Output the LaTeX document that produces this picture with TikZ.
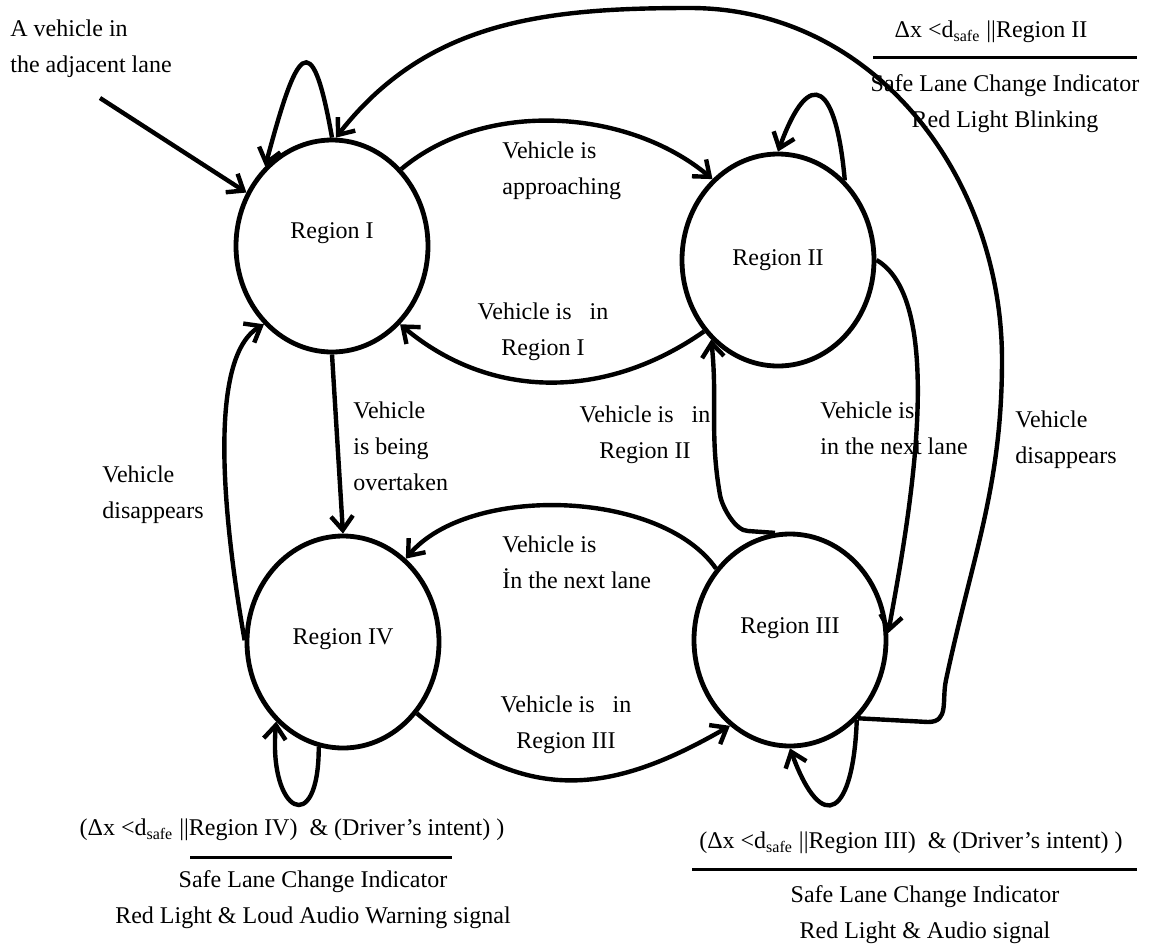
\documentclass[tikz,border=0pt]{standalone}
\usepackage{fontspec}
\setmainfont{Liberation Serif}
\usetikzlibrary{automata, positioning, arrows.meta, shapes.geometric}

\begin{document}
\begin{tikzpicture}[x=0.5pt, y=0.5pt,
    font=\fontsize{12pt}{18pt}\selectfont,
    region/.style={state, ellipse, line width=2.4pt,
        minimum width=96pt, minimum height=106pt, inner sep=0pt},
    raised/.style={text height=8pt, text depth=#1},
    txt/.style={inner sep=0pt, align=left},
    ctxt/.style={inner sep=0pt, align=center},
    rule/.style={line width=1.5pt}]
    \useasboundingbox (0,0) rectangle (1153,-949);

    \node (r1) [region, raised=16pt] at (332,-246) {Region I};
    \node (r2) [region] at (778,-260) {Region II};
    \node (r3) [region, raised=15pt] at (790,-640) {Region III};
    \node (r4) [region, raised=6pt] at (343,-642) {Region IV};
    \coordinate (entry) at (100,-98);

    % transitions between the regions
    \path [-{Straight Barb[length=7pt,width=11pt]}, line width=2.2pt]
    (entry) edge (r1.148)
    (r1.90) edge[out=100, in=75, distance=60pt] (r1.130)
    (r1.48) edge[out=40, in=140, looseness=.9] (r2.129)
    (r2.224) edge[out=215, in=320] (r1.311)
    (r1.south) edge (r4.north)
    (r4.179) edge[out=100, in=210, looseness=.6] (r1.229)
    (r4.316) edge[out=-40, in=210, looseness=1.15] (r3.235)
    (r3.136) edge[out=125, in=50, looseness=.8] (r4.53)
    (r2.0) edge[out=-30, in=80, looseness=.6] (r3.4)
    (r2.50) edge[out=95, in=70, distance=47.5pt] (r2.90)
    (r3.310) edge[out=268, in=290, distance=47.5pt] (r3.270)
    (r4.257) edge[out=270, in=265, distance=46pt] (r4.230);
    \draw [-{Straight Barb[length=7pt,width=11pt]}, line width=2.2pt]
    (r3.98) -- (748,-531) to[out=180, in=-80, looseness=.7] (720,-495)
        to[out=100, in=-84] (r2.230);
    \draw [-{Straight Barb[length=7pt,width=11pt]}, line width=2.2pt]
    (r3.311) -- (928,-722) to[out=0, in=258, looseness=1.2] (946,-680)
        to[out=78, in=-90] (1002,-360) to[out=90, in=0] (690,-8)
        to[out=180, in=52] (r1.88);

    % edge labels
    \node (lblentry) [txt, anchor=west] at (10,-48.5) {A vehicle in\\the adjacent lane};
    \node (lblappr) [txt, anchor=west] at (502,-170.5) {Vehicle is\\approaching};
    \node (lblin1) [ctxt] at (543,-332) {Vehicle is~~~in\\Region I};
    \node (lblovert) [txt, anchor=west] at (353,-446) {Vehicle\\is being\\overtaken};
    \node (lblin2) [ctxt] at (645,-435) {Vehicle is~~~in\\Region II};
    \node (lblnext4) [txt, anchor=west] at (502,-562.5) {Vehicle is\\İn the next lane};
    \node (lblin3) [ctxt] at (566,-725) {Vehicle is~~~in\\Region III};
    \node (lblgone4) [txt, anchor=west] at (102,-495) {Vehicle\\disappears};
    \node (lblnext3) [txt, anchor=west] at (820,-428.5) {Vehicle is\\in the next lane};
    \node (lblgone3) [txt, anchor=west] at (1015,-440) {Vehicle\\disappears};

    % conditions and actions of the self loops
    \node (cond2) [ctxt] at (991,-32) {Δx <d\textsubscript{safe} ||Region II};
    \draw [rule] (873,-57) -- (1137,-57);
    \node (act2) [ctxt] at (1005,-103.5) {Safe Lane Change Indicator\\Red Light Blinking};
    \node (cond4) [ctxt] at (292,-830) {(Δx <d\textsubscript{safe} ||Region IV)~ \& (Driver’s intent) )};
    \draw [rule] (190,-857) -- (452,-857);
    \node (act4) [ctxt] at (313,-900) {Safe Lane Change Indicator\\Red Light \& Loud Audio Warning signal};
    \node (cond3) [ctxt] at (911,-843) {(Δx <d\textsubscript{safe} ||Region III)~ \& (Driver’s intent) )};
    \draw [rule] (692,-869) -- (1137,-869);
    \node (act3) [ctxt] at (925,-915) {Safe Lane Change Indicator\\Red Light \& Audio signal};
\end{tikzpicture}
\end{document}
